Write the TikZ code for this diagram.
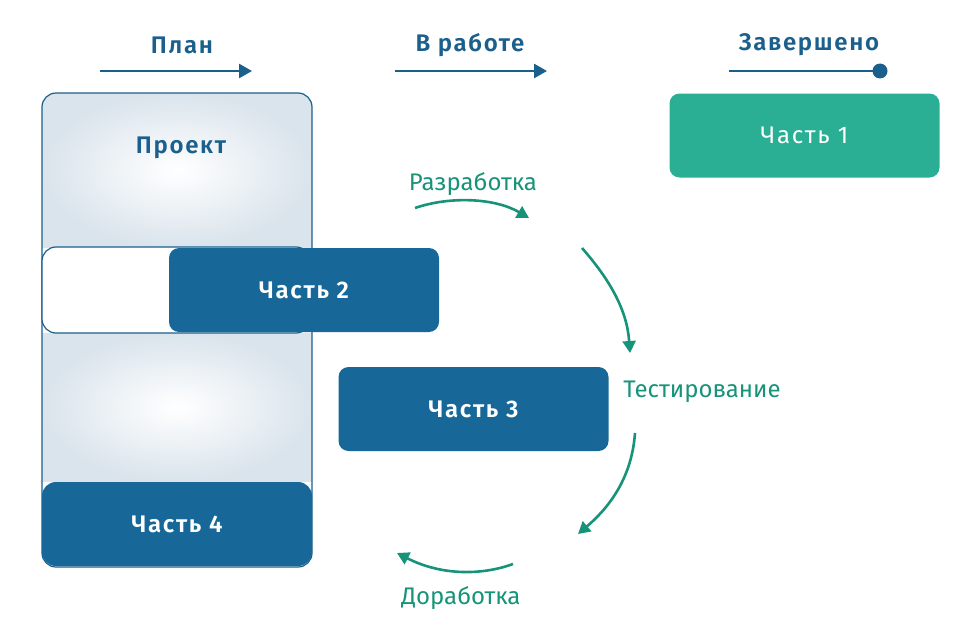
\documentclass[tikz,border=0pt]{standalone}
\usepackage{fontspec}
\setmainfont{Fira Sans}
\newfontfamily\labelfont{Fira Sans}[LetterSpace=7, BoldFont={Fira Sans SemiBold}]
\usetikzlibrary{arrows.meta}

\definecolor{partblue}{HTML}{176898}
\definecolor{headblue}{HTML}{1B5F8C}
\definecolor{donegreen}{HTML}{2AAF95}
\definecolor{flowgreen}{HTML}{17937A}
\definecolor{colshade}{HTML}{DAE4EC}

\tikzset{
  part/.style={rounded corners=10pt, fill=partblue, text=white,
    font=\fontsize{24}{28}\labelfont\bfseries, minimum width=270pt,
    minimum height=84pt, inner sep=0pt},
  head/.style={text=headblue, font=\fontsize{24}{28}\labelfont\bfseries, inner sep=0pt},
  stage/.style={text=flowgreen, font=\fontsize{24}{28}\selectfont, inner sep=0pt},
  headarrow/.style={headblue, line width=2.6pt, -{Triangle[length=13pt,width=14pt]}},
  flow/.style={flowgreen, line width=2.6pt, -{Triangle[length=12pt,width=13pt]}},
}

\begin{document}
\begin{tikzpicture}[x=1pt, y=-1pt]

  %% ==== column headers ====
  \node[head] (plan) at (182,45) {План};
  \node[head] (work) at (470,45) {В работе};
  \node[head] (done) at (809,45) {Завершено};

  \coordinate (planA) at (100,71);  \coordinate (planB) at (252,71);
  \coordinate (workA) at (395,71);  \coordinate (workB) at (547,71);
  \coordinate (doneA) at (729,71);  \coordinate (doneB) at (880,71);
  \draw[headarrow] (planA) -- (planB);
  \draw[headarrow] (workA) -- (workB);
  \draw[headblue, line width=2.6pt] (doneA) -- (doneB);
  \fill[headblue] (doneB) circle (7.5);

  %% ==== project column ====
  \begin{scope}
    \clip[rounded corners=14pt] (42,93) rectangle (312,567);
    \shade[inner color=white, outer color=colshade] (42,93) rectangle (312,247);
    \shade[inner color=white, outer color=colshade] (42,333) rectangle (312,481);
  \end{scope}
  \draw[headblue, line width=1.2pt, rounded corners=14pt] (42,93) rectangle (312,567);
  \node[head] (proj) at (181,148) {Проект};

  % empty slot left by part 2
  \draw[headblue, fill=white, line width=1.2pt, rounded corners=14pt] (42,247) rectangle (310,333);

  %% ==== parts ====
  \node[part] (p2) at (304,290) {Часть 2};
  \node[part] (p3) at (473.5,409) {Часть 3};
  \node[part, rounded corners=14pt] (p4) at (177,524) {Часть 4};
  \node[part, fill=donegreen, font=\fontsize{24}{28}\labelfont] (p1) at (804.5,135.5) {Часть 1};

  %% ==== work cycle ====
  \node[stage] (dev)  at (473,184) {Разработка};
  \node[stage] (test) at (702,392) {Тестирование};
  \node[stage] (fix)  at (461,598) {Доработка};

  \coordinate (c1a) at (415,208);  \coordinate (c1b) at (529,218);
  \coordinate (c2a) at (582,248);  \coordinate (c2b) at (630,353);
  \coordinate (c3a) at (635,433);  \coordinate (c3b) at (578,534);
  \coordinate (c4a) at (513,564);  \coordinate (c4b) at (397,553);
  \draw[flow] (c1a) .. controls (450,196) and (495,198) .. (c1b);
  \draw[flow] (c2a) .. controls (610,280) and (627,310) .. (c2b);
  \draw[flow] (c3a) .. controls (632,475) and (612,505) .. (c3b);
  \draw[flow] (c4a) .. controls (480,576) and (440,575) .. (c4b);

  \pgfresetboundingbox
  \path[use as bounding box] (0,0) rectangle (980,634);
\end{tikzpicture}
\end{document}
